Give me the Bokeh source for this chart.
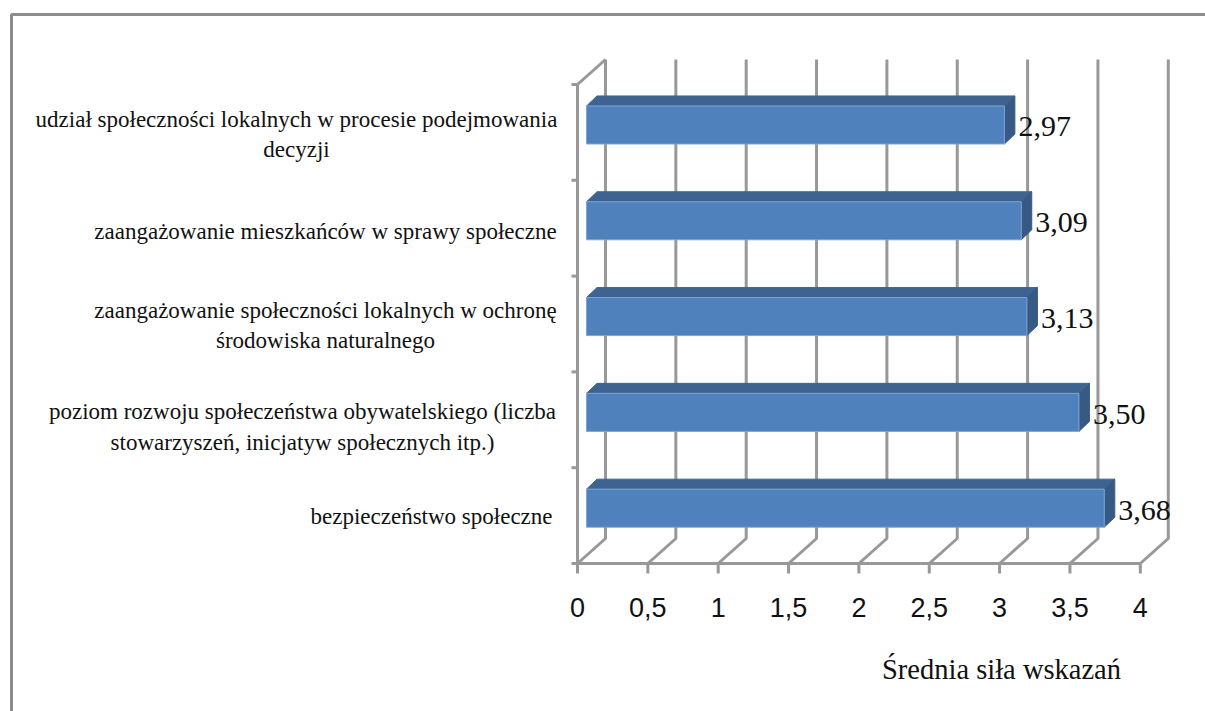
from bokeh.plotting import figure
from bokeh.embed import file_html
from bokeh.resources import INLINE
from bokeh.models import Range1d
from bokeh.core.properties import value

categories = [
    ["bezpieczeństwo społeczne"],
    ["poziom rozwoju społeczeństwa obywatelskiego (liczba", "stowarzyszeń, inicjatyw społecznych itp.)"],
    ["zaangażowanie społeczności lokalnych w ochronę", "środowiska naturalnego"],
    ["zaangażowanie mieszkańców w sprawy społeczne"],
    ["udział społeczności lokalnych w procesie podejmowania", "decyzji"],
]
values = [3.68, 3.50, 3.13, 3.09, 2.97]
value_labels = ["3,68", "3,50", "3,13", "3,09", "2,97"]
x_ticks = [0, 0.5, 1, 1.5, 2, 2.5, 3, 3.5, 4]
x_tick_labels = ["0", "0,5", "1", "1,5", "2", "2,5", "3", "3,5", "4"]
y_ticks = [0, 1, 2, 3, 4, 5]
x_title = "Średnia siła wskazań"

# geometry: pixels per data unit, origin on the page, fake 3-D depth
PX_X, PX_Y = 140.7, 95.8
W, H = 1205, 711
X0, Y0 = 577, 563
WALL_DX, WALL_DY = 28 / PX_X, 25 / PX_Y
BAR_X0 = 9 / PX_X
BAR_DX, BAR_DY = 10.5 / PX_X, 10 / PX_Y
BAR_LOW, BAR_HIGH = 0.379, 0.776
GRID = "#989898"
FRONT, TOP, SIDE = "#4f81bd", "#3d6491", "#375a85"
SERIF = "Liberation Serif"
INK = "#111111"
BASE_SHIFT = 0.33  # em: rendered baseline sits this far below the requested y

def dx(px):
    return (px - X0) / PX_X

def dy(py):
    return (Y0 - py) / PX_Y

def base(py, size):
    return dy(py - BASE_SHIFT * size)

p = figure(width=W, height=H, output_backend="svg", toolbar_location=None,
           x_axis_location=None, y_axis_location=None, min_border=0,
           x_range=Range1d(dx(0), dx(W)), y_range=Range1d(dy(H), dy(0)))
p.grid.visible = False
p.outline_line_color = None

# chart border, running off the right and bottom edges
p.line([dx(11), dx(11), dx(W)], [dy(H), dy(14), dy(14)], line_color="#8c8c8c", line_width=3)

# walls
top_y = y_ticks[-1] + WALL_DY
p.multi_line([[t, t + WALL_DX, t + WALL_DX] for t in x_ticks],
             [[0, WALL_DY, top_y] for _ in x_ticks], line_color=GRID, line_width=3)
p.line([0, WALL_DX], [y_ticks[-1], top_y], line_color=GRID, line_width=3)

# axis lines and ticks
p.line([x_ticks[0], x_ticks[-1]], [0, 0], line_color=GRID, line_width=3)
p.line([0, 0], [y_ticks[0], y_ticks[-1]], line_color=GRID, line_width=3)
p.segment(x0=x_ticks, x1=x_ticks, y0=[0] * len(x_ticks), y1=[-10 / PX_Y] * len(x_ticks),
          line_color=GRID, line_width=3)
p.segment(x0=[0] * len(y_ticks), x1=[-6 / PX_X] * len(y_ticks), y0=y_ticks, y1=y_ticks,
          line_color=GRID, line_width=3)

# bars
ys = list(range(len(values)))
p.patches([[BAR_X0, BAR_X0 + BAR_DX, BAR_X0 + v + BAR_DX, BAR_X0 + v] for v in values],
          [[y + BAR_HIGH, y + BAR_HIGH + BAR_DY, y + BAR_HIGH + BAR_DY, y + BAR_HIGH] for y in ys],
          fill_color=TOP, line_color=TOP, line_width=1)
p.patches([[BAR_X0 + v, BAR_X0 + v + BAR_DX, BAR_X0 + v + BAR_DX, BAR_X0 + v] for v in values],
          [[y + BAR_LOW, y + BAR_LOW + BAR_DY, y + BAR_HIGH + BAR_DY, y + BAR_HIGH] for y in ys],
          fill_color=SIDE, line_color=SIDE, line_width=1)
p.quad(left=BAR_X0, right=[BAR_X0 + v for v in values],
       bottom=[y + BAR_LOW for y in ys], top=[y + BAR_HIGH for y in ys],
       fill_color=FRONT, line_color="#7fa5d6", line_width=1)

# value labels
p.text(x=[BAR_X0 + v for v in values], y=[y + (BAR_LOW + BAR_HIGH) / 2 for y in ys], text=value_labels,
       x_offset=14, y_offset=2, text_font=value(SERIF), text_font_size="30px",
       text_align="left", text_baseline="middle", text_color=INK)

# x tick labels
TICK_SIZE = 27
p.text(x=x_ticks, y=[base(616, TICK_SIZE)] * len(x_ticks), text=x_tick_labels,
       text_font=value("Liberation Sans"), text_font_size=f"{TICK_SIZE}px",
       text_align="center", text_baseline="alphabetic", text_color=INK)

# category labels: each block is centred on itself, its right end near the axis
CAT_SIZE = 23
centres = [431, 302, 325, 325, 296]
baselines = [[524], [419, 450], [318, 348], [239], [127, 157]]
cat_x, cat_y, cat_t = [], [], []
for block, cx, bases in zip(categories, centres, baselines):
    for line, b in zip(block, bases):
        cat_x.append(dx(cx))
        cat_y.append(base(b, CAT_SIZE))
        cat_t.append(line)
p.text(x=cat_x, y=cat_y, text=cat_t, text_font=value(SERIF), text_font_size=f"{CAT_SIZE}px",
       text_align="center", text_baseline="alphabetic", text_color=INK)

TITLE_SIZE = 28.5
p.text(x=[dx(1001)], y=[base(678, TITLE_SIZE)], text=[x_title], text_font=value(SERIF),
       text_font_size=f"{TITLE_SIZE}px", text_align="center", text_baseline="alphabetic", text_color=INK)

open("out.html", "w").write(file_html(p, INLINE))
